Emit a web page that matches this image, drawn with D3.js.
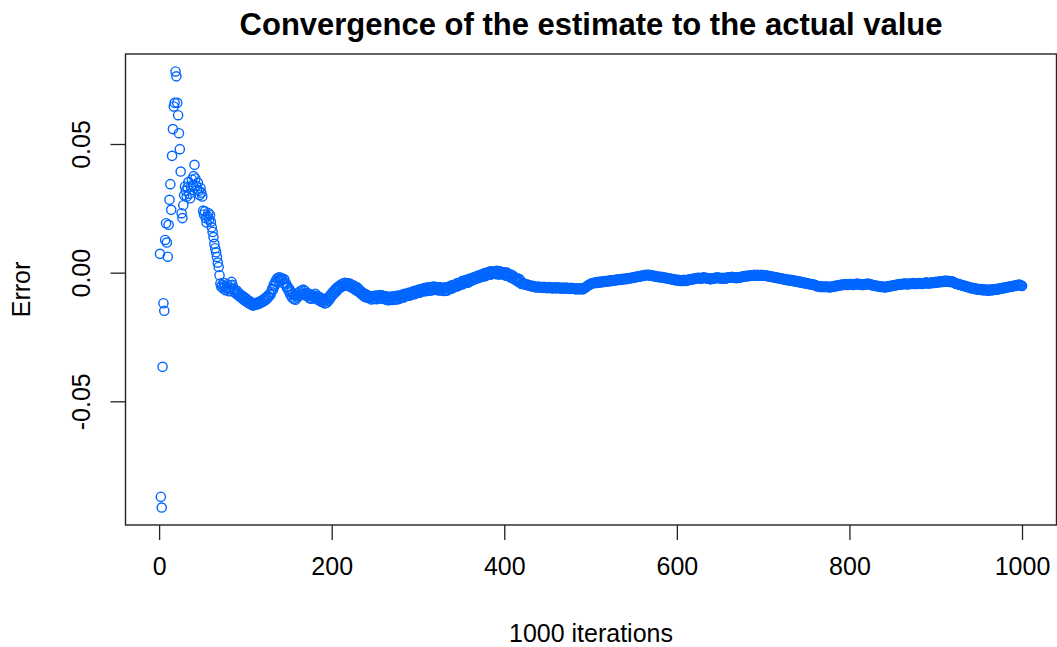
<!DOCTYPE html>
<html>
<head>
<meta charset="utf-8">
<script src="https://cdn.jsdelivr.net/npm/d3@7"></script>
<style>
  body { margin: 0; background: #fff; }
  text { font-family: "Liberation Sans", Arial, sans-serif; fill: #000; }
</style>
</head>
<body>
<script>
const W = 1057;
const H = 647;
const box = { left: 125.5, right: 1056.5, top: 54, bottom: 525 };

const title = "Convergence of the estimate to the actual value";
const xLabel = "1000 iterations";
const yLabel = "Error";
const xTicks = [0, 200, 400, 600, 800, 1000];
const yTicks = [-0.05, 0, 0.05];
const yTickLabels = ["-0.05", "0.00", "0.05"];

// error of the running estimate, one value per iteration (1..1000)
const errors = [
  0.0073, -0.0871, -0.0913, -0.0366, -0.0119, -0.0148, 0.0127, 0.0192, 0.0117, 0.0062,
  0.0186, 0.0283, 0.0344, 0.0244, 0.0454, 0.0558, 0.0646, 0.0660, 0.0782, 0.0763,
  0.0660, 0.0612, 0.0542, 0.0480, 0.0393, 0.0231, 0.0212, 0.0262, 0.0301, 0.0335,
  0.0318, 0.0296, 0.0331, 0.0352, 0.0307, 0.0289, 0.0334, 0.0362, 0.0341, 0.0375,
  0.0419, 0.0366, 0.0338, 0.0322, 0.0349, 0.0318, 0.0302, 0.0329, 0.0311, 0.0296,
  0.0241, 0.0226, 0.0238, 0.0212, 0.0195, 0.0219, 0.0232, 0.0207, 0.0224, 0.0198,
  0.0176, 0.0158, 0.0138, 0.0112, 0.0095, 0.0079, 0.0061, 0.0039, 0.0022, -0.0010,
  -0.0042, -0.0055, -0.0048, -0.0061, -0.0039, -0.0052, -0.0068, -0.0059, -0.0045, -0.0063,
  -0.0072, -0.0058, -0.0049, -0.0036, -0.0047, -0.0062, -0.0075, -0.0068, -0.0081, -0.0070,
  -0.0086, -0.0078, -0.0092, -0.0085, -0.0097, -0.0089, -0.0102, -0.0094, -0.0108, -0.0099,
  -0.0111, -0.0104, -0.0117, -0.0109, -0.0121, -0.0113, -0.0125, -0.0118, -0.0128, -0.0120,
  -0.0126, -0.0119, -0.0124, -0.0116, -0.0122, -0.0113, -0.0118, -0.0110, -0.0115, -0.0106,
  -0.0111, -0.0102, -0.0107, -0.0096, -0.0101, -0.0090, -0.0094, -0.0083, -0.0086, -0.0075,
  -0.0063, -0.0066, -0.0046, -0.0051, -0.0032, -0.0038, -0.0022, -0.0030, -0.0018, -0.0027,
  -0.0020, -0.0029, -0.0023, -0.0040, -0.0026, -0.0045, -0.0041, -0.0058, -0.0055, -0.0071,
  -0.0064, -0.0085, -0.0076, -0.0097, -0.0084, -0.0102, -0.0087, -0.0105, -0.0088, -0.0097,
  -0.0079, -0.0091, -0.0073, -0.0085, -0.0070, -0.0083, -0.0066, -0.0081, -0.0071, -0.0089,
  -0.0079, -0.0090, -0.0081, -0.0099, -0.0084, -0.0101, -0.0090, -0.0100, -0.0089, -0.0097,
  -0.0082, -0.0098, -0.0089, -0.0105, -0.0096, -0.0108, -0.0097, -0.0113, -0.0104, -0.0115,
  -0.0104, -0.0120, -0.0106, -0.0117, -0.0102, -0.0110, -0.0093, -0.0101, -0.0085, -0.0092,
  -0.0076, -0.0084, -0.0069, -0.0077, -0.0062, -0.0070, -0.0056, -0.0063, -0.0051, -0.0058,
  -0.0046, -0.0054, -0.0042, -0.0051, -0.0039, -0.0048, -0.0040, -0.0050, -0.0042, -0.0053,
  -0.0042, -0.0055, -0.0047, -0.0060, -0.0049, -0.0062, -0.0055, -0.0068, -0.0056, -0.0070,
  -0.0063, -0.0076, -0.0069, -0.0082, -0.0075, -0.0088, -0.0081, -0.0094, -0.0082, -0.0096,
  -0.0089, -0.0098, -0.0090, -0.0099, -0.0092, -0.0104, -0.0092, -0.0100, -0.0091, -0.0099,
  -0.0089, -0.0103, -0.0090, -0.0098, -0.0088, -0.0097, -0.0087, -0.0101, -0.0089, -0.0102,
  -0.0093, -0.0102, -0.0092, -0.0106, -0.0094, -0.0107, -0.0095, -0.0103, -0.0093, -0.0106,
  -0.0093, -0.0105, -0.0092, -0.0104, -0.0090, -0.0103, -0.0090, -0.0102, -0.0089, -0.0097,
  -0.0088, -0.0097, -0.0083, -0.0096, -0.0082, -0.0091, -0.0082, -0.0090, -0.0078, -0.0090,
  -0.0077, -0.0086, -0.0076, -0.0084, -0.0072, -0.0084, -0.0071, -0.0080, -0.0070, -0.0078,
  -0.0066, -0.0078, -0.0065, -0.0073, -0.0064, -0.0072, -0.0060, -0.0072, -0.0059, -0.0071,
  -0.0058, -0.0070, -0.0057, -0.0069, -0.0056, -0.0068, -0.0055, -0.0067, -0.0054, -0.0066,
  -0.0058, -0.0066, -0.0057, -0.0069, -0.0056, -0.0068, -0.0060, -0.0068, -0.0059, -0.0071,
  -0.0058, -0.0070, -0.0057, -0.0069, -0.0055, -0.0063, -0.0054, -0.0062, -0.0049, -0.0061,
  -0.0048, -0.0056, -0.0047, -0.0054, -0.0041, -0.0053, -0.0040, -0.0047, -0.0039, -0.0046,
  -0.0033, -0.0045, -0.0032, -0.0040, -0.0030, -0.0039, -0.0027, -0.0039, -0.0026, -0.0034,
  -0.0022, -0.0030, -0.0022, -0.0029, -0.0017, -0.0025, -0.0017, -0.0024, -0.0012, -0.0020,
  -0.0012, -0.0019, -0.0007, -0.0015, -0.0007, -0.0014, -0.0002, -0.0014, -0.0001, -0.0009,
  -0.0001, -0.0008, 0.0004, -0.0008, 0.0005, -0.0003, 0.0004, -0.0004, 0.0003, -0.0005,
  0.0007, -0.0006, 0.0006, -0.0007, 0.0005, -0.0006, 0.0002, -0.0006, 0.0001, -0.0007,
  0.0000, -0.0012, 0.0000, -0.0013, -0.0005, -0.0014, -0.0007, -0.0020, -0.0009, -0.0022,
  -0.0015, -0.0027, -0.0020, -0.0029, -0.0022, -0.0035, -0.0024, -0.0038, -0.0031, -0.0044,
  -0.0042, -0.0044, -0.0042, -0.0045, -0.0047, -0.0045, -0.0048, -0.0050, -0.0048, -0.0051,
  -0.0053, -0.0051, -0.0054, -0.0052, -0.0055, -0.0057, -0.0055, -0.0058, -0.0056, -0.0054,
  -0.0056, -0.0058, -0.0056, -0.0059, -0.0057, -0.0055, -0.0057, -0.0059, -0.0057, -0.0060,
  -0.0058, -0.0056, -0.0058, -0.0060, -0.0058, -0.0061, -0.0059, -0.0057, -0.0059, -0.0061,
  -0.0059, -0.0057, -0.0059, -0.0061, -0.0059, -0.0062, -0.0060, -0.0058, -0.0060, -0.0062,
  -0.0060, -0.0058, -0.0060, -0.0062, -0.0060, -0.0063, -0.0061, -0.0059, -0.0061, -0.0063,
  -0.0061, -0.0063, -0.0065, -0.0063, -0.0061, -0.0063, -0.0065, -0.0063, -0.0061, -0.0063,
  -0.0065, -0.0062, -0.0060, -0.0058, -0.0055, -0.0053, -0.0050, -0.0048, -0.0046, -0.0044,
  -0.0042, -0.0040, -0.0041, -0.0039, -0.0040, -0.0038, -0.0040, -0.0038, -0.0036, -0.0038,
  -0.0036, -0.0037, -0.0035, -0.0037, -0.0035, -0.0033, -0.0035, -0.0033, -0.0034, -0.0032,
  -0.0034, -0.0032, -0.0030, -0.0032, -0.0030, -0.0031, -0.0029, -0.0031, -0.0029, -0.0027,
  -0.0029, -0.0027, -0.0028, -0.0026, -0.0028, -0.0026, -0.0024, -0.0026, -0.0024, -0.0025,
  -0.0023, -0.0025, -0.0023, -0.0021, -0.0023, -0.0021, -0.0022, -0.0020, -0.0018, -0.0020,
  -0.0018, -0.0016, -0.0018, -0.0016, -0.0014, -0.0016, -0.0014, -0.0012, -0.0014, -0.0012,
  -0.0010, -0.0012, -0.0010, -0.0008, -0.0010, -0.0008, -0.0010, -0.0008, -0.0010, -0.0012,
  -0.0010, -0.0012, -0.0014, -0.0012, -0.0014, -0.0016, -0.0014, -0.0016, -0.0018, -0.0016,
  -0.0018, -0.0016, -0.0018, -0.0020, -0.0018, -0.0020, -0.0022, -0.0020, -0.0022, -0.0024,
  -0.0022, -0.0024, -0.0026, -0.0024, -0.0026, -0.0028, -0.0026, -0.0028, -0.0030, -0.0028,
  -0.0030, -0.0028, -0.0030, -0.0032, -0.0030, -0.0032, -0.0030, -0.0028, -0.0030, -0.0032,
  -0.0030, -0.0028, -0.0030, -0.0028, -0.0026, -0.0028, -0.0026, -0.0024, -0.0026, -0.0024,
  -0.0022, -0.0024, -0.0022, -0.0020, -0.0022, -0.0020, -0.0022, -0.0024, -0.0022, -0.0020,
  -0.0018, -0.0020, -0.0022, -0.0020, -0.0022, -0.0024, -0.0022, -0.0024, -0.0026, -0.0024,
  -0.0022, -0.0024, -0.0022, -0.0020, -0.0022, -0.0020, -0.0018, -0.0020, -0.0022, -0.0020,
  -0.0022, -0.0024, -0.0022, -0.0020, -0.0022, -0.0024, -0.0022, -0.0020, -0.0018, -0.0020,
  -0.0018, -0.0020, -0.0018, -0.0016, -0.0018, -0.0020, -0.0018, -0.0020, -0.0022, -0.0020,
  -0.0018, -0.0020, -0.0018, -0.0016, -0.0018, -0.0016, -0.0014, -0.0016, -0.0014, -0.0012,
  -0.0014, -0.0012, -0.0014, -0.0012, -0.0010, -0.0012, -0.0010, -0.0012, -0.0010, -0.0008,
  -0.0010, -0.0012, -0.0010, -0.0008, -0.0010, -0.0012, -0.0010, -0.0008, -0.0010, -0.0012,
  -0.0010, -0.0012, -0.0010, -0.0012, -0.0014, -0.0012, -0.0014, -0.0016, -0.0014, -0.0016,
  -0.0018, -0.0016, -0.0018, -0.0020, -0.0018, -0.0020, -0.0022, -0.0020, -0.0022, -0.0024,
  -0.0022, -0.0024, -0.0026, -0.0024, -0.0026, -0.0028, -0.0026, -0.0028, -0.0030, -0.0028,
  -0.0030, -0.0028, -0.0030, -0.0032, -0.0030, -0.0032, -0.0034, -0.0032, -0.0034, -0.0036,
  -0.0034, -0.0036, -0.0038, -0.0036, -0.0038, -0.0040, -0.0038, -0.0040, -0.0042, -0.0040,
  -0.0042, -0.0044, -0.0042, -0.0044, -0.0046, -0.0044, -0.0046, -0.0048, -0.0046, -0.0048,
  -0.0050, -0.0052, -0.0054, -0.0052, -0.0054, -0.0056, -0.0054, -0.0056, -0.0054, -0.0056,
  -0.0054, -0.0056, -0.0054, -0.0056, -0.0054, -0.0056, -0.0058, -0.0056, -0.0054, -0.0056,
  -0.0054, -0.0052, -0.0054, -0.0052, -0.0050, -0.0052, -0.0050, -0.0048, -0.0050, -0.0048,
  -0.0046, -0.0048, -0.0046, -0.0048, -0.0046, -0.0044, -0.0046, -0.0048, -0.0046, -0.0044,
  -0.0046, -0.0044, -0.0046, -0.0048, -0.0046, -0.0044, -0.0046, -0.0044, -0.0042, -0.0044,
  -0.0046, -0.0044, -0.0046, -0.0048, -0.0046, -0.0048, -0.0046, -0.0044, -0.0046, -0.0044,
  -0.0042, -0.0044, -0.0046, -0.0044, -0.0046, -0.0048, -0.0050, -0.0048, -0.0050, -0.0052,
  -0.0050, -0.0052, -0.0054, -0.0052, -0.0054, -0.0056, -0.0054, -0.0056, -0.0054, -0.0056,
  -0.0058, -0.0056, -0.0054, -0.0056, -0.0054, -0.0052, -0.0054, -0.0052, -0.0050, -0.0052,
  -0.0050, -0.0048, -0.0050, -0.0048, -0.0046, -0.0048, -0.0046, -0.0044, -0.0046, -0.0044,
  -0.0046, -0.0044, -0.0042, -0.0044, -0.0042, -0.0044, -0.0046, -0.0044, -0.0042, -0.0044,
  -0.0042, -0.0044, -0.0042, -0.0040, -0.0042, -0.0044, -0.0042, -0.0044, -0.0042, -0.0040,
  -0.0042, -0.0040, -0.0042, -0.0044, -0.0042, -0.0040, -0.0042, -0.0040, -0.0038, -0.0040,
  -0.0042, -0.0040, -0.0042, -0.0040, -0.0038, -0.0040, -0.0038, -0.0040, -0.0038, -0.0036,
  -0.0038, -0.0036, -0.0038, -0.0036, -0.0034, -0.0036, -0.0034, -0.0036, -0.0034, -0.0032,
  -0.0034, -0.0032, -0.0034, -0.0032, -0.0034, -0.0036, -0.0034, -0.0036, -0.0034, -0.0036,
  -0.0038, -0.0040, -0.0042, -0.0044, -0.0042, -0.0044, -0.0046, -0.0048, -0.0046, -0.0048,
  -0.0050, -0.0052, -0.0050, -0.0052, -0.0054, -0.0056, -0.0054, -0.0056, -0.0058, -0.0060,
  -0.0058, -0.0060, -0.0062, -0.0060, -0.0062, -0.0064, -0.0062, -0.0064, -0.0066, -0.0064,
  -0.0066, -0.0064, -0.0066, -0.0068, -0.0066, -0.0068, -0.0066, -0.0068, -0.0066, -0.0068,
  -0.0070, -0.0068, -0.0066, -0.0068, -0.0066, -0.0068, -0.0066, -0.0064, -0.0066, -0.0064,
  -0.0066, -0.0064, -0.0062, -0.0064, -0.0062, -0.0060, -0.0062, -0.0060, -0.0058, -0.0060,
  -0.0058, -0.0056, -0.0058, -0.0056, -0.0054, -0.0056, -0.0054, -0.0052, -0.0054, -0.0052,
  -0.0050, -0.0052, -0.0050, -0.0048, -0.0050, -0.0048, -0.0046, -0.0048, -0.0050, -0.0052
];

const points = errors.map((e, i) => ({ n: i + 1, e }));

// R-style axis ranges: data range padded by 4% on each side
const xExt = d3.extent(points, d => d.n);
const yExt = d3.extent(points, d => d.e);
const xPad = (xExt[1] - xExt[0]) * 0.04;
const yPad = (yExt[1] - yExt[0]) * 0.04;

const x = d3.scaleLinear()
    .domain([xExt[0] - xPad, xExt[1] + xPad])
    .range([box.left, box.right]);

const y = d3.scaleLinear()
    .domain([yExt[0] - yPad, yExt[1] + yPad])
    .range([box.bottom, box.top]);

const svg = d3.select("body")
    .append("svg")
    .attr("width", W)
    .attr("height", H);

svg.append("rect")
    .attr("width", W)
    .attr("height", H)
    .attr("fill", "#fff");

svg.append("g")
    .selectAll("circle")
    .data(points)
    .join("circle")
    .attr("cx", d => x(d.n))
    .attr("cy", d => y(d.e))
    .attr("r", 4.6)
    .attr("fill", "none")
    .attr("stroke", "#0066ff")
    .attr("stroke-width", 1.4);

// plot frame
svg.append("rect")
    .attr("x", box.left)
    .attr("y", box.top)
    .attr("width", box.right - box.left)
    .attr("height", box.bottom - box.top)
    .attr("fill", "none")
    .attr("stroke", "#222")
    .attr("stroke-width", 1.4);

const xAxis = d3.axisBottom(x)
    .tickValues(xTicks)
    .tickSize(15)
    .tickPadding(17)
    .tickFormat(d3.format("d"));

svg.append("g")
    .attr("transform", `translate(0, ${box.bottom})`)
    .call(xAxis)
    .call(g => g.select(".domain").remove())
    .call(g => g.selectAll("line").attr("stroke", "#222").attr("stroke-width", 1.3))
    .call(g => g.selectAll("text")
        .attr("font-size", 25)
        .attr("font-family", "Liberation Sans, Arial, sans-serif")
        .attr("fill", "#000"));

const yAxis = d3.axisLeft(y)
    .tickValues(yTicks)
    .tickSize(15)
    .tickFormat((d, i) => yTickLabels[i]);

svg.append("g")
    .attr("transform", `translate(${box.left}, 0)`)
    .call(yAxis)
    .call(g => g.select(".domain").remove())
    .call(g => g.selectAll("line").attr("stroke", "#222").attr("stroke-width", 1.3))
    .call(g => g.selectAll("text")
        .attr("font-size", 25)
        .attr("font-family", "Liberation Sans, Arial, sans-serif")
        .attr("fill", "#000")
        .attr("text-anchor", "middle")
        .attr("dy", 0)
        .attr("x", 0)
        .attr("transform", "translate(-36, 0) rotate(-90)"));

svg.append("text")
    .attr("x", (box.left + box.right) / 2)
    .attr("y", 35)
    .attr("text-anchor", "middle")
    .attr("font-size", 31)
    .attr("font-weight", "bold")
    .text(title);

svg.append("text")
    .attr("x", (box.left + box.right) / 2)
    .attr("y", 642)
    .attr("text-anchor", "middle")
    .attr("font-size", 25)
    .text(xLabel);

svg.append("text")
    .attr("transform", `translate(30, ${(box.top + box.bottom) / 2}) rotate(-90)`)
    .attr("text-anchor", "middle")
    .attr("font-size", 25)
    .text(yLabel);
</script>
</body>
</html>
